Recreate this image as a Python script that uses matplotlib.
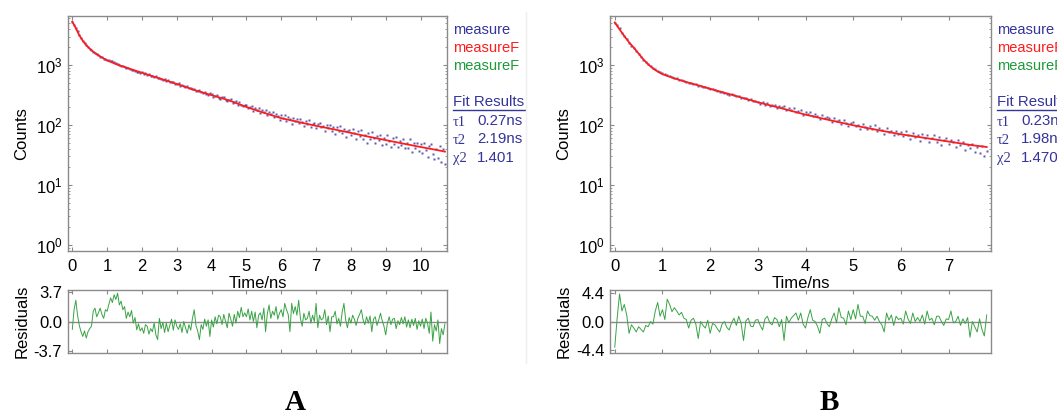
import numpy as np
import matplotlib
matplotlib.use("Agg")
import matplotlib.pyplot as plt
from matplotlib.ticker import LogLocator, NullFormatter, FixedLocator
from matplotlib.lines import Line2D

plt.rcParams["font.family"] = ["Liberation Sans", "DejaVu Sans"]
plt.rcParams["mathtext.default"] = "regular"
plt.rcParams["axes.unicode_minus"] = False

W, H = 1057, 417
STEP = 0.05          # ns per listed channel

BLUE = "#34349a"
RED = "#ff1c1c"
GREEN = "#1f9a3a"
RES_GREEN = "#3aa345"
FRAME = "#8a8a8a"

# ---- panel A -------------------------------------------------------------
a_meas = [
    5250, 4750, 4100, 3650, 3120, 2850, 2530, 2350, 2130, 2020,
    1860, 1790, 1670, 1620, 1510, 1480, 1390, 1360, 1280, 1260,
    1230, 1200, 1180, 1150, 1120, 1080, 1040, 1010, 975, 960,
    930, 895, 890, 860, 835, 840, 800, 775, 770, 745,
    760, 722, 730, 688, 700, 650, 668, 630, 648, 600,
    612, 585, 570, 590, 548, 560, 528, 515, 530, 492,
    478, 498, 455, 470, 444, 430, 448, 412, 418, 395,
    395, 372, 365, 384, 350, 342, 360, 330, 318, 336,
    331, 297, 309, 318, 282, 268, 291, 296, 266, 250,
    266, 272, 234, 240, 248, 212, 242, 220, 205, 215,
    220, 190, 200, 209, 174, 192, 175, 193, 160, 177,
    168, 179, 145, 164, 150, 166, 137, 152, 140, 122,
    146, 132, 147, 118, 134, 127, 105, 132, 115, 125,
    108, 125, 114, 95, 118, 103, 119, 93, 106, 109,
    89, 106, 110, 91, 96, 80, 100, 89, 102, 80,
    92, 72, 94, 80, 95, 73, 85, 64, 79, 84,
    67, 86, 73, 59, 79, 66, 82, 58, 69, 51,
    74, 58, 76, 61, 50, 65, 56, 69, 47, 60,
    49, 67, 54, 43, 60, 48, 64, 43, 55, 47,
    59, 41, 51, 42, 58, 35, 50, 42, 51, 37,
    49, 34, 51, 38, 29, 44, 49, 33, 27, 40,
    28, 45, 24, 40, 22,
]
a_fit_t = [0, 0.05, 0.1, 0.15, 0.2, 0.3, 0.4, 0.5, 0.6, 0.7, 0.8, 0.9, 1.0,
           1.25, 1.5, 1.75, 2.0, 2.5, 3.0, 3.5, 4.0, 4.5, 5.0, 5.5, 6.0,
           6.5, 7.0, 7.5, 8.0, 8.5, 9.0, 9.5, 10.0, 10.5, 10.7]
a_fit_v = [5300, 4700, 4150, 3600, 3150, 2550, 2150, 1880, 1680, 1520, 1400,
           1290, 1200, 1040, 930, 830, 745, 600, 485, 385, 315, 258, 200,
           160, 130, 112, 97, 85, 74, 64, 56, 49, 43, 38, 36]
a_resid = [
    -1.0, 1.5, 2.7, 0.8, -0.5, -1.3, -1.9, -1.2, -2.1, -1.3,
    -0.9, -0.6, 1.3, 1.7, 0.6, 1.1, 1.7, 0.9, 0.4, 1.5,
    1.3, 2.2, 3.0, 2.4, 3.4, 2.8, 3.6, 2.1, 2.6, 1.5,
    1.9, 0.4, 1.2, 0.6, 1.4, -0.2, 0.5, -1.05, -0.3, -1.2,
    -0.8, -1.5, -0.4, -0.6, -1.6, -0.9, -1.3, -0.2, -1.7, -2.3,
    0.4, -0.9, -0.1, -1.4, -0.2, -1.3, -0.5, 0.3, -1.1, 0.2,
    -0.6, -1.0, -0.3, -1.4, 0.0, -0.8, -1.5, -0.4, -1.1, 0.4,
    1.5, -0.5, -1.2, -2.3, -0.4, -1.0, 0.3, -0.6, 0.2, -1.9,
    0.2, -0.7, 0.6, -0.3, 0.8, 0.6, -0.4, 0.9, 0.0, -0.8,
    1.05, 0.3, -0.6, 0.9, -0.2, 1.3, 0.5, 1.8, 0.6, 1.1,
    0.6, 1.6, 0.2, 1.3, 0.0, 1.2, -0.8, 0.8, 1.1, 0.2,
    1.7, -1.3, 1.0, 2.1, 0.4, 1.3, 0.8, 1.9, 0.3, 1.05,
    1.5, 0.6, 2.3, 1.5, 0.9, -1.3, 2.3, 1.0, 1.9, 0.8,
    2.7, 0.4, -0.6, 1.05, 0.2, 0.4, 1.3, -0.2, 0.8, 0.0,
    2.3, -0.8, 0.8, 0.2, 0.4, 1.5, -0.4, 0.7, -1.3, 0.6,
    0.6, 1.3, -0.3, 0.4, -0.6, 1.2, 2.3, 0.2, -0.8, 0.5,
    -0.2, 0.8, 0.3, -0.5, 0.4, 0.9, 1.5, 0.2, -0.4, 0.6,
    -0.2, 0.7, -1.3, 0.3, 0.6, -0.5, 0.2, 1.05, 0.1, -0.6,
    -1.7, -0.2, 0.6, -0.4, 0.3, 0.4, -0.9, 0.1, -0.4, 0.5,
    -0.3, 0.6, -0.7, 0.2, -0.8, 0.3, -0.5, 0.4, -1.0, 0.1,
    -0.6, 0.3, -0.9, 0.4, -0.2, -1.5, 1.2, -2.5, -0.4, -1.2,
    0.2, -2.8, -0.9, -1.7, -0.3,
]
a_results = ["0.27ns", "2.19ns", "1.401"]

# ---- panel B -------------------------------------------------------------
b_meas = [
    5000, 4600, 4100, 3500, 3100, 2720, 2380, 2120, 1920, 1730,
    1530, 1380, 1240, 1120, 1040, 960, 905, 860, 800, 770,
    730, 700, 690, 655, 640, 615, 598, 575, 565, 540,
    528, 505, 500, 482, 478, 450, 452, 430, 428, 408,
    395, 392, 378, 372, 358, 352, 348, 332, 322, 324,
    314, 300, 302, 285, 278, 282, 264, 268, 250, 255,
    245, 222, 238, 219, 231, 207, 214, 219, 191, 204,
    201, 207, 177, 195, 177, 193, 164, 173, 176, 147,
    164, 152, 166, 139, 153, 143, 124, 146, 131, 135,
    131, 111, 131, 116, 123, 106, 123, 109, 96, 110,
    111, 95, 102, 86, 105, 94, 85, 97, 86, 99,
    80, 90, 83, 71, 90, 76, 81, 69, 81, 72,
    77, 65, 79, 68, 59, 73, 62, 68, 55, 70,
    61, 68, 53, 61, 67, 52, 62, 47, 57, 60,
    48, 57, 52, 43, 57, 47, 52, 39, 47, 42,
    48, 36, 43, 34, 44, 31, 37,
]
b_fit_t = [0, 0.1, 0.2, 0.3, 0.4, 0.5, 0.6, 0.7, 0.8, 0.9, 1.0, 1.25, 1.5,
           1.75, 2.0, 2.5, 3.0, 3.5, 4.0, 4.5, 5.0, 5.5, 6.0, 6.5, 7.0, 7.5, 7.8]
b_fit_v = [5150, 3950, 3050, 2400, 1950, 1560, 1250, 1030, 880, 780, 705,
           600, 522, 460, 403, 312, 240, 190, 149, 121, 99, 83, 70, 61, 53,
           46, 43]
b_resid = [
    -3.9, 0.5, 4.2, 1.6, 2.6, 1.0, -1.8, -0.5, -1.0, -1.6,
    -0.8, -1.2, -1.6, -0.6, -0.8, 0.0, -0.4, 1.6, 2.9, 0.8,
    1.8, 0.3, 3.4, 2.6, 1.5, 2.1, 1.6, 1.0, 1.4, 0.5,
    0.3, -1.0, 0.2, 0.5, -0.4, -2.6, 0.0, -0.6, -1.0, 0.2,
    -1.8, -0.3, -0.5, -1.1, -1.6, -0.4, 0.0, -0.9, -1.3, -0.2,
    0.5, -0.6, 0.8, -0.3, -2.9, 0.1, 0.5, -0.7, -0.8, 0.2,
    0.3, -0.6, -1.3, 0.4, 0.8, -0.2, -0.5, 0.6, 0.3, -0.8,
    0.3, -2.9, 0.8, -0.2, 0.5, 0.9, 1.3, 0.2, 1.3, -0.4,
    -1.0, 0.6, 1.8, 0.2, 0.0, -0.7, -1.8, 0.3, 0.5, -0.3,
    -0.8, 0.4, 1.3, -0.2, 2.1, 0.6, 0.5, -0.5, 1.6, 0.3,
    1.8, 0.4, 2.6, 0.8, 0.8, -0.3, 1.6, 0.9, 0.8, 0.2,
    0.8, 0.0, -0.5, -1.6, 1.3, 0.2, 1.0, -0.6, 0.8, 0.3,
    0.5, -0.4, 1.6, 0.4, -0.3, 1.3, 0.0, 0.6, 0.0, 1.0,
    -0.4, 1.6, 0.2, 0.5, -0.5, 0.8, 0.8, 0.0, -0.6, 0.4,
    0.3, 1.6, -0.2, 0.0, 0.8, -0.6, 0.4, -0.3, 0.6, -2.4,
    0.0, -0.8, -1.6, 0.4, -1.2, -2.2, 1.0,
]
b_results = ["0.23ns", "1.98ns", "1.470"]


def fx(x):
    return x / W


def fy(y):
    return 1 - y / H


def style_axes(ax):
    for sp in ax.spines.values():
        sp.set_color(FRAME)
        sp.set_linewidth(1.0)
    ax.tick_params(which="both", direction="in", top=True, right=True,
                   color=FRAME, labelsize=12, labelcolor="black")
    ax.tick_params(which="major", length=3)
    ax.tick_params(which="minor", length=1.5)


def draw_panel(fig, x0, x1, meas, fit_t, fit_v, resid, xlim, xticks,
               rlim, rtick, results, letter, letter_x):
    main = fig.add_axes([fx(x0), fy(251), fx(x1 - x0), 235 / H])
    t = np.arange(len(meas)) * STEP
    main.plot(t, meas, "s", ms=2.0, mfc=BLUE, mec="none", alpha=0.8)
    main.plot(fit_t, fit_v, color=RED, lw=1.3)
    main.set_yscale("log")
    main.set_ylim(0.79, 6600)
    main.set_xlim(*xlim)
    main.set_xticks(xticks)
    main.yaxis.set_major_locator(LogLocator(base=10, numticks=10))
    main.yaxis.set_minor_locator(LogLocator(base=10, subs=np.arange(2, 10), numticks=20))
    main.yaxis.set_minor_formatter(NullFormatter())
    style_axes(main)
    main.tick_params(axis="x", pad=6)
    main.tick_params(axis="y", pad=4)
    main.set_xlabel("Time/ns", fontsize=12, labelpad=1)
    main.set_ylabel("Counts", fontsize=12)
    main.yaxis.set_label_coords(-0.101, 0.5)

    res = fig.add_axes([fx(x0), fy(353), fx(x1 - x0), 63 / H])
    tr = np.arange(len(resid)) * STEP
    res.axhline(0, color=FRAME, lw=1.0, zorder=1)
    res.plot(tr, resid, color=RES_GREEN, lw=0.7, zorder=2)
    res.set_xlim(*xlim)
    res.set_ylim(*rlim)
    res.xaxis.set_major_locator(FixedLocator(xticks))
    res.set_xticklabels([])
    res.set_yticks([-rtick, 0, rtick])
    res.set_yticklabels([f"-{rtick:.1f}", "0.0", f"{rtick:.1f}"])
    style_axes(res)
    res.tick_params(axis="y", pad=4, right=False)
    res.set_ylabel("Residuals", fontsize=12)
    res.yaxis.set_label_coords(-0.101, 0.5)

    # legend / fit results block to the right of the frame
    lx = x1 + 6
    fig.text(fx(lx), fy(30), "measure", color=BLUE, fontsize=10.5, va="center")
    fig.text(fx(lx), fy(48), "measureF", color=RED, fontsize=10.5, va="center")
    fig.text(fx(lx), fy(65.5), "measureF", color=GREEN, fontsize=10.5, va="center")
    fig.text(fx(lx), fy(102), "Fit Results", color=BLUE, fontsize=10.8, va="center")
    fig.add_artist(Line2D([fx(lx), fx(lx + 72)], [fy(110), fy(110)],
                          color=BLUE, lw=1.0))
    for i, (sym, val) in enumerate(zip(["\u03c41", "\u03c42", "\u03c72"], results)):
        yy = 121 + i * 18.3
        fig.text(fx(lx), fy(yy + 1), sym, color=BLUE, fontsize=10.5,
                 family="Liberation Serif", va="center")
        fig.text(fx(x1 + 30), fy(yy), val, color=BLUE, fontsize=10.8, va="center")

    fig.text(fx(letter_x), fy(403), letter, fontsize=21, fontweight="bold",
             family="Liberation Serif", ha="center", va="center")


fig = plt.figure(figsize=(W / 100, H / 100), dpi=100)

draw_panel(fig, 67.8, 447, a_meas, a_fit_t, a_fit_v, a_resid,
           (-0.13, 10.76), list(range(0, 11)), (-4.0, 4.0), 3.7,
           a_results, "A", 295)
draw_panel(fig, 610, 991, b_meas, b_fit_t, b_fit_v, b_resid,
           (-0.1, 7.89), list(range(0, 8)), (-4.8, 4.8), 4.4,
           b_results, "B", 829)

# faint separator at the edge of the first panel image
fig.add_artist(Line2D([fx(526), fx(526)], [fy(12), fy(363)], color="#efefef", lw=1.0))

fig.savefig("out.png", dpi=100)
